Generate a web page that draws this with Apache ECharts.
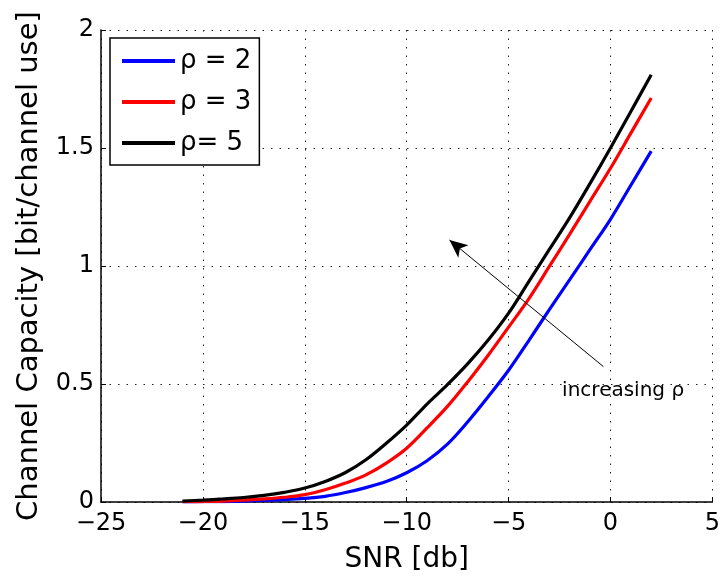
<!DOCTYPE html>
<html><head><meta charset="utf-8">
<script src="https://cdn.jsdelivr.net/npm/echarts@6/dist/echarts.min.js"></script>
<style>html,body{margin:0;padding:0;background:#fff}#c{width:723px;height:579px}</style>
</head><body><div id="c"></div>
<script>
const snr = [-21,-20,-19,-18,-17,-16,-15,-14,-13,-12,-11,-10,-9,-8,-7,-6,-5,-4,-3,-2,-1,0,1,2];
const rho2 = [0.000,0.001,0.002,0.004,0.007,0.010,0.015,0.024,0.040,0.061,0.087,0.124,0.175,0.245,0.340,0.446,0.558,0.685,0.815,0.942,1.070,1.198,1.342,1.487];
const rho3 = [0.001,0.002,0.004,0.008,0.013,0.020,0.031,0.052,0.080,0.115,0.165,0.228,0.314,0.405,0.510,0.622,0.741,0.862,0.998,1.135,1.275,1.414,1.563,1.712];
const rho5 = [0.004,0.008,0.013,0.019,0.028,0.041,0.059,0.087,0.125,0.179,0.249,0.326,0.415,0.497,0.586,0.686,0.800,0.935,1.070,1.205,1.350,1.500,1.655,1.810];
const seriesNames = ['\u03c1 = 2','\u03c1 = 3','\u03c1= 5'];
const arrowFrom = [-0.35,0.574];
const arrowTo = [-7.9,1.11];
const noteText = 'increasing \u03c1';
const notePos = [0.62,0.47];

const font = "'DejaVu Sans', sans-serif";
const pair = (xs, ys) => xs.map((x,i)=>[x, ys[i]]);
const mk = (name, data, color, extra) => Object.assign({
  name, type:'line', data: pair(snr, data), smooth: 0.35, symbol:'none',
  lineStyle:{color, width:3.2}, itemStyle:{color}, z:3
}, extra||{});

const chart = echarts.init(document.getElementById('c'), null, {renderer:'canvas'});
chart.setOption({
  animation:false,
  backgroundColor:'#fff',
  grid:{left:101, right:6, top:30, bottom:75, containLabel:false},
  legend:{
    data: seriesNames,
    orient:'vertical', left:110, top:38,
    icon:'rect', itemWidth:53, itemHeight:4, itemGap:15,
    padding:[10,8,9,12],
    borderColor:'#000', borderWidth:1.5, backgroundColor:'#fff',
    textStyle:{fontFamily:font, fontSize:26, color:'#000', padding:[0,0,0,0]},
    z:10
  },
  xAxis:{
    type:'value', min:-25, max:5, interval:5,
    name:'SNR [db]', nameLocation:'middle', nameGap:44,
    nameTextStyle:{fontFamily:font, fontSize:28, color:'#000'},
    axisLine:{show:true, onZero:false, lineStyle:{color:'#000', width:1.5}},
    axisTick:{show:true, inside:true, length:5, lineStyle:{color:'#000'}},
    axisLabel:{fontFamily:font, fontSize:24, color:'#000', margin:10,
      formatter:v=>String(v).replace('-','\u2212')},
    splitLine:{show:true, lineStyle:{color:'#222', type:[1.5,7], width:1}}
  },
  yAxis:{
    type:'value', min:0, max:2, interval:0.5,
    name:'Channel Capacity [bit/channel use]', nameLocation:'middle', nameGap:57,
    nameTextStyle:{fontFamily:font, fontSize:29, color:'#000'},
    axisLine:{show:true, onZero:false, lineStyle:{color:'#000', width:1.5}},
    axisTick:{show:true, inside:true, length:5, lineStyle:{color:'#000'}},
    axisLabel:{fontFamily:font, fontSize:24, color:'#000', margin:7},
    splitLine:{show:true, lineStyle:{color:'#222', type:[1.5,7], width:1}}
  },
  series:[
    mk(seriesNames[0], rho2, '#0000ff'),
    mk(seriesNames[1], rho3, '#ff0000'),
    mk(seriesNames[2], rho5, '#000000', {
      markLine:{
        silent:true, symbol:['none','arrow'], symbolSize:[12,18],
        label:{show:false},
        lineStyle:{color:'#000', width:1, type:'solid'},
        data:[[{coord:arrowFrom},{coord:arrowTo}]]
      }
    }),
    {
      type:'scatter', data:[notePos], symbolSize:0, silent:true,
      itemStyle:{color:'#000', opacity:1},
      label:{show:true, formatter:noteText, position:'inside',
        fontFamily:font, fontSize:20, color:'#000', opacity:1}
    }
  ]
});
</script></body></html>
